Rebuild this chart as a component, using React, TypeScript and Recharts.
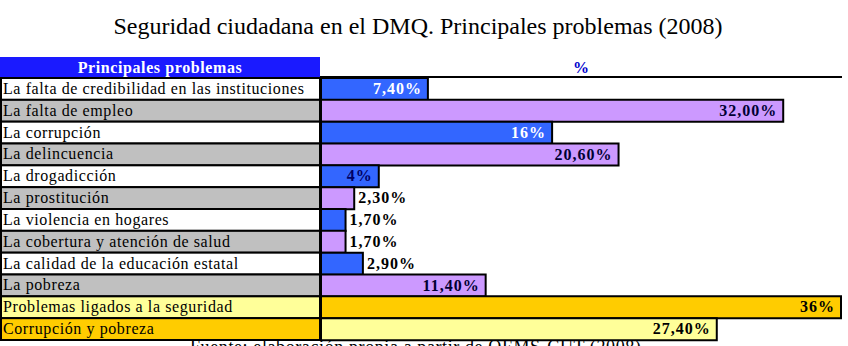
import React from "react";
import { BarChart, Bar, XAxis, YAxis, Cell, LabelList } from "recharts";

// Problem list and the share of respondents naming each one (%)
const problems = [
  "La falta de credibilidad en las instituciones",
  "La falta de empleo",
  "La corrupción",
  "La delincuencia",
  "La drogadicción",
  "La prostitución",
  "La violencia en hogares",
  "La cobertura y atención de salud",
  "La calidad de la educación estatal",
  "La pobreza",
  "Problemas ligados a la seguridad",
  "Corrupción y pobreza",
];
const shares = [7.4, 32, 16, 20.6, 4, 2.3, 1.7, 1.7, 2.9, 11.4, 36, 27.4];
// decimals shown in each value label
const shareDecimals = [2, 2, 0, 2, 0, 2, 2, 2, 2, 2, 0, 2];

// styling per row
const barFills = [
  "#3366ff", "#cc99ff", "#3366ff", "#cc99ff", "#3366ff", "#cc99ff",
  "#3366ff", "#cc99ff", "#3366ff", "#cc99ff", "#ffcc00", "#ffff99",
];
const cellFills = [
  "#ffffff", "#c0c0c0", "#ffffff", "#c0c0c0", "#ffffff", "#c0c0c0",
  "#ffffff", "#c0c0c0", "#ffffff", "#c0c0c0", "#ffff99", "#ffcc00",
];
const labelInk = [
  "#ffffff", "#000033", "#ffffff", "#000033", "#000066", "#000000",
  "#000000", "#000000", "#000000", "#000033", "#000000", "#000000",
];

const W = 848;
const H = 346;
const TOP = 78;
const BOTTOM = 6;
const LEFT_COL = 321;
const ROW_H = (H - TOP - BOTTOM) / problems.length;
const FONT = '"Liberation Serif", "Times New Roman", serif';

const rows = problems.map((problem, i) => ({
  problem,
  value: shares[i],
  decimals: shareDecimals[i],
}));

const fmt = (v: number, d: number) => `${v.toFixed(d).replace(".", ",")}%`;

function RowCell(props: any) {
  const { y, payload, index } = props;
  const i = payload?.index ?? index;
  return (
    <g>
      <rect
        x={1}
        y={y - ROW_H / 2}
        width={LEFT_COL - 2}
        height={ROW_H}
        fill={cellFills[i]}
        stroke="#000"
        strokeWidth={2}
      />
      <text
        x={3}
        y={y + 5}
        fontFamily={FONT}
        fontSize={16}
        letterSpacing={0.6}
        fill="#000"
      >
        {payload.value}
      </text>
    </g>
  );
}

function ValueLabel(props: any) {
  const { x, y, width, height, value, index } = props;
  const text = fmt(value, shareDecimals[index]);
  const est = text.length * 9.5;
  const inside = width - 12 > est;
  return (
    <text
      x={inside ? x + width - 6 : x + width + 4}
      y={y + height / 2 + 5}
      textAnchor={inside ? "end" : "start"}
      fontFamily={FONT}
      fontSize={16}
      fontWeight="bold"
      letterSpacing={1}
      fill={inside ? labelInk[index] : "#000"}
    >
      {text}
    </text>
  );
}

export default function App() {
  return (
    <div
      style={{
        position: "absolute",
        left: 0,
        top: 0,
        width: W,
        height: H,
        background: "#fff",
        overflow: "hidden",
        fontFamily: FONT,
      }}
    >
      <div
        style={{
          position: "absolute",
          left: 0,
          width: W,
          top: 13,
          textAlign: "center",
          fontSize: 24,
          paddingRight: 12,
          boxSizing: "border-box",
        }}
      >
        Seguridad ciudadana en el DMQ. Principales problemas (2008)
      </div>
      <div
        style={{
          position: "absolute",
          left: 0,
          top: 57,
          width: 320,
          height: 21,
          background: "#1a1aff",
          color: "#fff",
          fontWeight: "bold",
          fontSize: 16,
          letterSpacing: 0.6,
          textAlign: "center",
          lineHeight: "21px",
        }}
      >
        Principales problemas
      </div>
      <div
        style={{
          position: "absolute",
          left: 320,
          top: 57,
          width: 522,
          height: 19,
          borderBottom: "2px solid #000",
          color: "#0000cc",
          fontWeight: "bold",
          fontSize: 16,
          textAlign: "center",
          lineHeight: "21px",
        }}
      >
        %
      </div>
      <div style={{ position: "absolute", left: 0, top: 0 }}>
        <BarChart
          width={W}
          height={H}
          data={rows}
          layout="vertical"
          margin={{ top: TOP, right: W - LEFT_COL - 520, bottom: BOTTOM, left: 0 }}
          barCategoryGap={0}
        >
          <XAxis type="number" domain={[0, 36]} hide />
          <YAxis
            type="category"
            dataKey="problem"
            width={LEFT_COL}
            interval={0}
            axisLine={false}
            tickLine={false}
            tick={<RowCell />}
          />
          <Bar
            dataKey="value"
            stroke="#000"
            strokeWidth={2}
            isAnimationActive={false}
          >
            {rows.map((r, i) => (
              <Cell key={r.problem} fill={barFills[i]} />
            ))}
            <LabelList dataKey="value" content={<ValueLabel />} />
          </Bar>
        </BarChart>
      </div>
      <div
        style={{
          position: "absolute",
          left: 190,
          top: 337,
          fontSize: 18,
          letterSpacing: 0.6,
          whiteSpace: "nowrap",
        }}
      >
        Fuente: elaboración propia a partir de OEMS-CUT (2008)
      </div>
    </div>
  );
}
